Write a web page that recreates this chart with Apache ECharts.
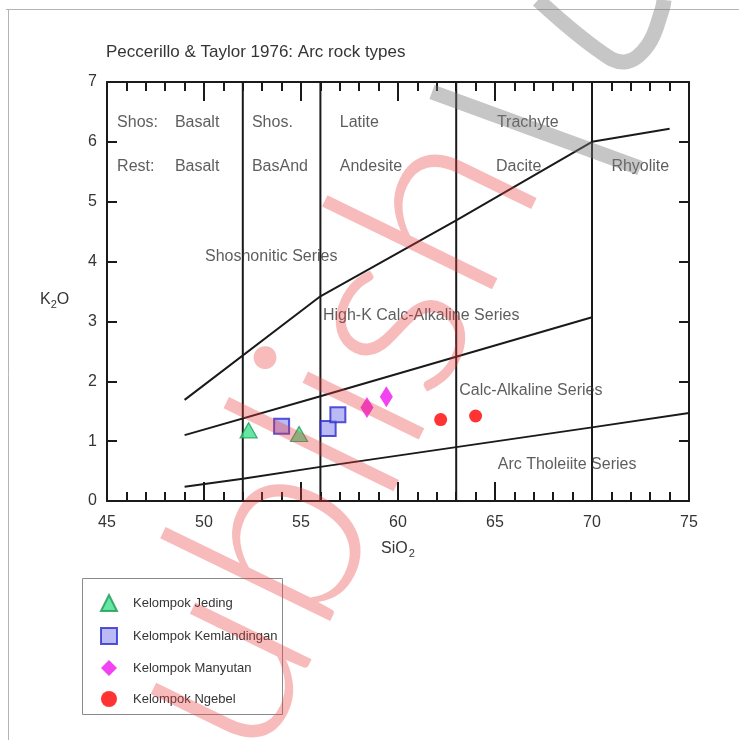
<!DOCTYPE html>
<html>
<head>
<meta charset="utf-8">
<script src="https://cdn.jsdelivr.net/npm/echarts@6/dist/echarts.min.js"></script>
<style>
  html, body { margin: 0; padding: 0; background: #fff; }
  #chart { width: 739px; height: 740px; }
</style>
</head>
<body>
<div id="chart"></div>
<script>
// Sample groups, [SiO2 wt%, K2O wt%]
const jeding = [[52.3, 1.18], [54.9, 1.12]];
const kemlandingan = [[54.0, 1.25], [56.4, 1.21], [56.9, 1.44]];
const manyutan = [[58.4, 1.56], [59.4, 1.74]];
const ngebel = [[62.2, 1.36], [64.0, 1.42]];

// Peccerillo & Taylor (1976) series boundaries
const shoshoniticBoundary = [[49, 1.69], [56, 3.42], [63, 4.69], [70, 6.0], [74, 6.22]];
const highKBoundary = [[49, 1.1], [56, 1.75], [63, 2.41], [70, 3.07]];
const tholeiiteBoundary = [[49, 0.24], [52, 0.37], [56, 0.57], [63, 0.9], [70, 1.23], [75, 1.47]];
const silicaDividers = [52, 56, 63, 70];

// Axis ranges and tick steps
const xRange = [45, 75];
const xStep = 5;
const yRange = [0, 7];
const yStep = 1;

// Field names: [SiO2, K2O, text]
const fieldLabels = [
  [45.52, 6.33, 'Shos:'], [48.5, 6.33, 'Basalt'], [52.47, 6.33, 'Shos.'],
  [57.0, 6.33, 'Latite'], [65.1, 6.33, 'Trachyte'],
  [45.52, 5.58, 'Rest:'], [48.5, 5.58, 'Basalt'], [52.47, 5.58, 'BasAnd'],
  [57.0, 5.58, 'Andesite'], [65.05, 5.58, 'Dacite'], [71.0, 5.58, 'Rhyolite'],
  [50.05, 4.09, 'Shoshonitic Series'],
  [56.13, 3.09, 'High-K Calc-Alkaline Series'],
  [63.16, 1.84, 'Calc-Alkaline Series'],
  [65.14, 0.6, 'Arc Tholeiite Series']
];

const FONT = '"Liberation Sans", Arial, sans-serif';
const INK = '#1a1a1a';
const TEXT = '#353535';

const chart = echarts.init(document.getElementById('chart'), null, { renderer: 'canvas' });

function boundary(data) {
  return {
    type: 'line', data: data, symbol: 'none', silent: true, z: 3,
    lineStyle: { color: INK, width: 2 }, animation: false
  };
}

const xAxisBase = {
  type: 'value', min: xRange[0], max: xRange[1], interval: xStep,
  axisLine: { show: true, onZero: false, lineStyle: { color: INK, width: 2 } },
  axisTick: { show: true, inside: true, length: 19, lineStyle: { color: INK, width: 2 } },
  minorTick: { show: true, splitNumber: 5, length: 9, lineStyle: { color: INK, width: 2 } },
  splitLine: { show: false }
};
const yAxisBase = {
  type: 'value', min: yRange[0], max: yRange[1], interval: yStep,
  axisLine: { show: true, onZero: false, lineStyle: { color: INK, width: 2 } },
  axisTick: { show: true, inside: true, length: 10, lineStyle: { color: INK, width: 2 } },
  splitLine: { show: false }
};

const dividerSeries = silicaDividers.map(x => boundary([[x, yRange[0]], [x, yRange[1]]]));

const option = {
  animation: false,
  backgroundColor: '#fff',
  textStyle: { fontFamily: FONT },
  title: {
    text: 'Peccerillo & Taylor 1976: Arc rock types',
    left: 106, top: 44, padding: 0,
    textStyle: { fontFamily: FONT, fontSize: 17, fontWeight: 'normal', color: TEXT }
  },
  grid: { left: 107, top: 82, width: 582, height: 419 },
  xAxis: [
    Object.assign({}, xAxisBase, {
      position: 'bottom',
      axisLabel: { fontSize: 16, color: TEXT, margin: 14, fontFamily: FONT },
      name: 'SiO{s|2}', nameLocation: 'middle', nameGap: 37,
      nameTextStyle: {
        fontSize: 16, color: TEXT, fontFamily: FONT,
        rich: { s: { fontSize: 11, color: TEXT, padding: [10, 0, 0, 1], fontFamily: FONT } }
      }
    }),
    Object.assign({}, xAxisBase, { position: 'top', axisLabel: { show: false } })
  ],
  yAxis: [
    Object.assign({}, yAxisBase, {
      position: 'left',
      axisLabel: { fontSize: 16, color: TEXT, margin: 10, fontFamily: FONT }
    }),
    Object.assign({}, yAxisBase, { position: 'right', axisLabel: { show: false } })
  ],
  legend: {
    orient: 'vertical', left: 95, top: 589,
    itemWidth: 16, itemHeight: 16, itemGap: 15,
    textStyle: { fontSize: 13, color: TEXT, fontFamily: FONT, padding: [0, 0, 0, 11] },
    data: ['Kelompok Jeding', 'Kelompok Kemlandingan', 'Kelompok Manyutan', 'Kelompok Ngebel']
  },
  graphic: [
    // page frame
    { type: 'line', shape: { x1: 6, y1: 9.5, x2: 739, y2: 9.5 }, style: { stroke: '#b4b4b4', lineWidth: 1 }, silent: true },
    { type: 'line', shape: { x1: 8.5, y1: 9.5, x2: 8.5, y2: 740 }, style: { stroke: '#b4b4b4', lineWidth: 1 }, silent: true },
    // legend frame
    { type: 'rect', shape: { x: 82.5, y: 578.5, width: 200, height: 136 }, style: { fill: 'none', stroke: '#8a8a8a', lineWidth: 1 }, silent: true },
    // y axis title
    {
      type: 'text', x: 40, y: 289, silent: true,
      style: {
        text: 'K{s|2}O', font: '16px ' + FONT, fill: TEXT,
        rich: { s: { fontSize: 11, fill: TEXT, padding: [10, 0, 0, 0], fontFamily: FONT } }
      }
    },
    // watermark
    {
      type: 'text', x: 295, y: 502, rotation: 1.117, silent: true, z: 100,
      style: { text: 'publish', font: '300 260px Lato, sans-serif', fill: 'rgba(235,60,60,0.35)', align: 'center', verticalAlign: 'middle' }
    },
    {
      type: 'polyline', silent: true, z: 100,
      shape: { points: [[432, 92], [640, 168]] },
      style: { stroke: 'rgba(120,120,120,0.42)', lineWidth: 15, fill: 'none' }
    },
    {
      type: 'polyline', silent: true, z: 100,
      shape: { points: [[538, 0], [598, 50], [625, 62], [648, 45], [662, 10], [664, 0]], smooth: 0.4 },
      style: { stroke: 'rgba(120,120,120,0.42)', lineWidth: 15, fill: 'none' }
    }
  ],
  series: [
    boundary(shoshoniticBoundary),
    boundary(highKBoundary),
    boundary(tholeiiteBoundary),
    ...dividerSeries,
    {
      name: 'field labels', type: 'scatter', silent: true, z: 4,
      symbolSize: 0, itemStyle: { color: 'transparent' },
      data: fieldLabels.map(([x, y, t]) => ({ value: [x, y], name: t })),
      label: { show: true, position: 'right', distance: 0, formatter: '{b}', fontSize: 16, color: TEXT, fontFamily: FONT }
    },
    {
      name: 'Kelompok Jeding', type: 'scatter', data: jeding, z: 5,
      symbol: 'triangle', symbolSize: [17, 15],
      itemStyle: { color: '#3ee08c', borderColor: '#1c9a55', borderWidth: 1.2 }
    },
    {
      name: 'Kelompok Kemlandingan', type: 'scatter', data: kemlandingan, z: 5,
      symbol: 'rect', symbolSize: 15,
      itemStyle: { color: '#a9a9f2', borderColor: '#2a2ad0', borderWidth: 2 }
    },
    {
      name: 'Kelompok Manyutan', type: 'scatter', data: manyutan, z: 5,
      symbol: 'diamond', symbolSize: [13, 21],
      itemStyle: { color: '#ee14ee' }
    },
    {
      name: 'Kelompok Ngebel', type: 'scatter', data: ngebel, z: 5,
      symbol: 'circle', symbolSize: 13,
      itemStyle: { color: '#ff0000' }
    }
  ]
};

chart.setOption(option);
</script>
</body>
</html>
